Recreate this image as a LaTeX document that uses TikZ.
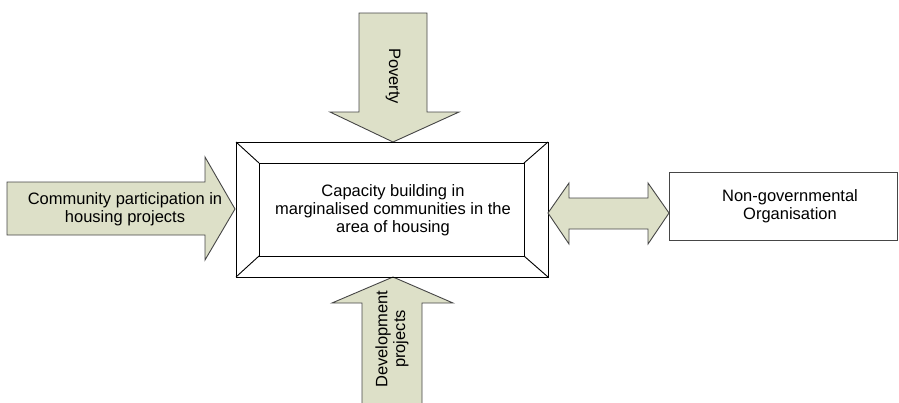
\documentclass[tikz,border=0pt]{standalone}
\usepackage{fontspec}
\setmainfont{Liberation Sans}
\usepackage{tikz}
\usetikzlibrary{positioning}

\definecolor{arrowfill}{RGB}{221,224,200}
\definecolor{arrowline}{RGB}{70,70,70}

\begin{document}
\begin{tikzpicture}[x=1pt,y=-1pt]

\tikzset{block arrow/.style={draw=arrowline, fill=arrowfill, line width=0.9pt, line join=miter}}
\tikzset{label text/.style={align=center, font=\fontsize{16.5}{17.8}\selectfont, inner sep=0pt}}

\useasboundingbox (0,0) rectangle (899,402);

% arrow from above
\draw[block arrow] (359,13) -- (427,13) -- (427,112) -- (459,112) -- (393,142)
  -- (330,112) -- (359,112) -- cycle;
\node[label text, rotate=-90] (poverty) at (393,76) {Poverty};

% arrow from below
\draw[block arrow] (362,410) -- (362,303) -- (332,303) -- (393,277)
  -- (453,303) -- (422,303) -- (422,410);
\node[label text, rotate=90] (devproj) at (392,339) {Development\\projects};

% arrow from the left
\draw[block arrow] (7,182) -- (205,182) -- (205,157) -- (235,209)
  -- (205,260) -- (205,235) -- (7,235) -- cycle;
\node[label text] (community) at (125,209) {Community participation in\\housing projects};

% bevelled box
\draw[line width=0.9pt] (236,142) rectangle (548,277);
\draw[line width=0.9pt] (259,163) rectangle (524,256);
\draw[line width=0.9pt] (236,142) -- (259,163);
\draw[line width=0.9pt] (548,142) -- (524,163);
\draw[line width=0.9pt] (236,277) -- (259,256);
\draw[line width=0.9pt] (548,277) -- (524,256);
\node[label text] (capacity) at (393,210) {Capacity building in\\marginalised communities in the\\area of housing};

% two-way arrow
\draw[block arrow] (548,213) -- (569,183) -- (569,198) -- (648,198) -- (648,183)
  -- (669,213) -- (648,244) -- (648,229) -- (569,229) -- (569,244) -- cycle;

% box on the right
\draw[draw=arrowline, line width=0.9pt] (669,172) rectangle (897,240);
\node[label text] (ngo) at (790,206) {Non-governmental\\Organisation};

\end{tikzpicture}
\end{document}
